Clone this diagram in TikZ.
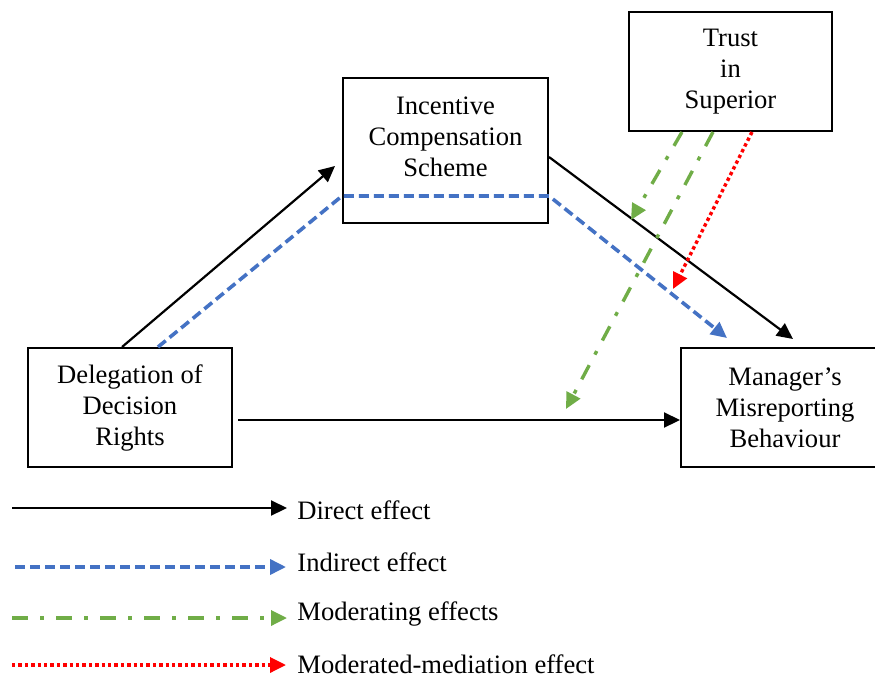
\documentclass[tikz,border=0pt]{standalone}
\usepackage{fontspec}
\setmainfont{Liberation Serif}
\usetikzlibrary{arrows.meta,calc}
\definecolor{blu}{RGB}{68,114,196}
\definecolor{grn}{RGB}{112,173,71}
\definecolor{rd}{RGB}{255,0,0}
\tikzset{
  box/.style={draw,line width=1pt,align=center,inner sep=0pt,
    font=\fontsize{13.3}{15.5}\selectfont},
  txt/.style={align=center,inner sep=0pt,font=\fontsize{13.3}{15.5}\selectfont},
  tip/.style={-{Triangle[length=8pt,width=7.5pt]}},
  direct/.style={tip,line width=1.1pt,black},
  indirect/.style={tip,line width=1.8pt,blu,dash pattern=on 5pt off 2.5pt},
  moder/.style={tip,line width=1.7pt,grn,dash pattern=on 8pt off 6pt on 2pt off 6pt},
  modmed/.style={tip,line width=1.7pt,rd,dash pattern=on 1.7pt off 1.5pt},
  legtext/.style={anchor=west,inner sep=0pt,font=\fontsize{13.3}{15.5}\selectfont}
}
\begin{document}
\begin{tikzpicture}[x=0.5pt,y=-0.5pt]
\useasboundingbox (0,0) rectangle (875,676);
\node[box,minimum width=102pt,minimum height=59.5pt] (del) at (130,407.5) {Delegation of\\Decision\\Rights};
\node[box,minimum width=102.5pt,minimum height=72.5pt] (inc) at (445.5,150.5) {};
\node[txt] (inc-t) at (445.5,137) {Incentive\\Compensation\\Scheme};
\node[box,minimum width=101.5pt,minimum height=59.5pt] (tru) at (730.5,71.5) {Trust\\in\\Superior};
\node[box,minimum width=104pt,minimum height=59.5pt] (man) at (785,407.5) {Manager’s\\Misreporting\\Behaviour};
% coordinates
\coordinate (d1) at (del.north -| 122,0);
\coordinate (d2) at (del.north -| 158,0);
\coordinate (i1) at (335,166);
\coordinate (i2) at (inc.west |- 0,196);
\coordinate (i3) at (inc.east |- 0,196);
\coordinate (i4) at (inc.east |- 0,157);
\coordinate (bl) at (727,338);
\coordinate (bk) at (793,339);
\coordinate (d3) at (238,420);
\coordinate (m1) at (man.west |- 0,420);
\coordinate (t1) at (tru.south -| 682,0);
\coordinate (t2) at (tru.south -| 713,0);
\coordinate (t3) at (tru.south -| 752,0);
\coordinate (g1) at (631,220);
\coordinate (g2) at (566,409);
\coordinate (r1) at (673,289);
% arrows
\draw[direct] (d1) -- (i1);
\draw[indirect] (d2) -- (i2) -- (i3) -- (bl);
\draw[direct] (i4) -- (bk);
\draw[direct] (d3) -- (m1);
\draw[moder] (t1) -- (g1);
\draw[moder] (t2) -- (g2);
\draw[modmed] (t3) -- (r1);
% legend
\coordinate (la) at (12,508); \coordinate (lb) at (287,508);
\coordinate (lc) at (15,567); \coordinate (ld) at (286,567);
\coordinate (le) at (12,618); \coordinate (lf) at (287,618);
\coordinate (lg) at (12,665); \coordinate (lh) at (286,665);
\draw[direct] (la) -- (lb);
\draw[indirect] (lc) -- (ld);
\draw[moder] (le) -- (lf);
\draw[modmed] (lg) -- (lh);
\node[legtext] (t-a) at (297,510) {Direct effect};
\node[legtext] (t-b) at (297,562) {Indirect effect};
\node[legtext] (t-c) at (297,614) {Moderating effects};
\node[legtext] (t-d) at (297,664) {Moderated-mediation effect};
\end{tikzpicture}
\end{document}
